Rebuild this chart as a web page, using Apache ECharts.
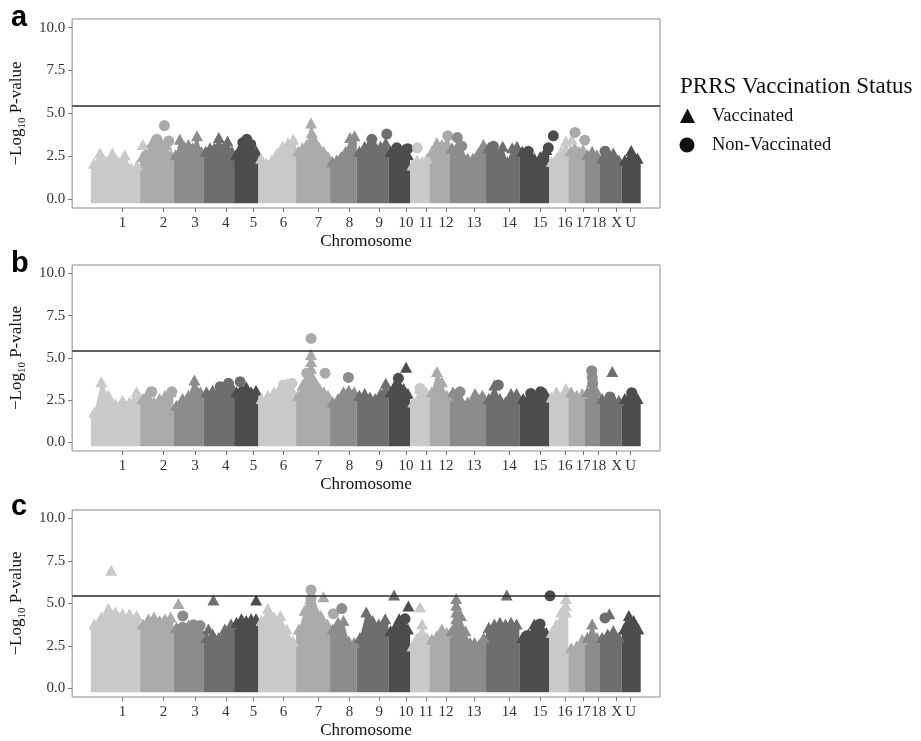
<!DOCTYPE html>
<html><head><meta charset="utf-8">
<script src="https://cdn.jsdelivr.net/npm/echarts@6/dist/echarts.min.js"></script>
<style>html,body{margin:0;padding:0;background:#fff}#c{width:921px;height:741px}</style>
</head><body><div id="c"></div>
<script>
// ---------------- data ----------------
const chrLabels = ['1','2','3','4','5','6','7','8','9','10','11','12','13','14','15','16','17','18','X','U'];
// cumulative genome position of chromosome boundaries (axis units)
const chrBounds = [0, 49.3, 82.6, 112.6, 143.3, 167.6, 205.3, 239.3, 266, 297.6, 319.3, 338.6, 358.6, 395.3, 428.6, 458.6, 477.6, 494.3, 508.6, 531, 550];
// axis tick (label) positions for each chromosome
const chrTickPos = [31.6, 72.6, 104.3, 135, 162.6, 192.6, 227.6, 258.6, 288.6, 315.3, 335.3, 355.3, 383.3, 418.6, 449.3, 474.3, 492.6, 508, 526, 540];
const yTicks = [0, 2.5, 5, 7.5, 10];
const threshold = 5.45;
const chrColors = ['#c9c9c9', '#aaaaaa', '#8c8c8c', '#6e6e6e', '#4c4c4c'];

// upper envelope of the dense SNP cloud (-log10 p of top SNPs, evenly spread along each chromosome)
const envA = [
  [2.1, 2.7, 2.2, 2.7, 2.2, 2.6, 1.85, 2.0],
  [2.5, 2.9, 3.3, 3.4, 3.3, 3.2, 2.6],
  [2.6, 3.5, 3.1, 3.2, 3.0, 3.7, 2.8],
  [2.8, 3.0, 3.0, 3.6, 3.0, 3.4, 2.8],
  [2.6, 3.0, 3.3, 3.2, 3.0, 2.8],
  [2.4, 2.1, 2.3, 2.7, 3.1, 3.3, 3.5],
  [2.8, 3.0, 3.2, 4.45, 3.4, 3.0, 2.8, 2.5],
  [2.2, 2.3, 2.5, 2.8, 3.6, 3.7],
  [2.8, 3.1, 3.3, 3.1, 3.1, 3.3],
  [2.8, 3.0, 2.8, 2.9, 2.6],
  [2.0, 2.3, 2.2, 2.4],
  [2.8, 3.3, 3.2, 3.3],
  [3.0, 3.1, 2.6, 2.4, 2.4, 2.7, 3.2],
  [3.0, 3.0, 2.6, 3.1, 2.2, 3.0, 3.1],
  [2.8, 2.8, 2.4, 2.5, 2.9],
  [2.2, 2.4, 2.8, 3.4],
  [2.8, 3.0, 2.8, 2.9],
  [2.6, 2.8, 2.6],
  [2.4, 2.8, 2.7, 2.3],
  [2.3, 2.85, 2.4]
];
const envB = [
  [1.8, 3.6, 2.8, 2.3, 2.5, 2.4, 3.0],
  [2.6, 3.0, 2.4, 2.6, 2.8, 3.0],
  [2.2, 2.6, 2.8, 3.7, 3.0],
  [3.0, 3.1, 3.0, 3.3, 3.4],
  [3.0, 3.2, 3.3, 3.0, 3.1],
  [2.6, 2.8, 3.0, 3.3, 3.5, 3.0],
  [2.8, 3.4, 3.8, 5.2, 3.6, 3.2, 3.0, 2.8],
  [2.4, 2.6, 3.0, 3.1, 3.0],
  [2.8, 2.9, 2.7, 2.6, 2.9, 3.5],
  [3.0, 3.4, 3.4, 3.2, 2.9],
  [2.4, 3.2, 3.0],
  [3.0, 4.2, 3.6, 2.8],
  [3.0, 2.6, 2.4, 2.9, 2.8],
  [2.6, 3.4, 2.6, 2.4, 2.9, 2.9],
  [2.6, 2.9, 3.0, 2.9],
  [2.7, 3.0, 2.7, 3.2],
  [3.0, 2.8, 2.9],
  [3.0, 3.6, 3.0],
  [2.6, 2.7, 2.6, 2.5],
  [2.6, 2.95, 2.6]
];
const envC = [
  [3.8, 4.2, 4.7, 4.5, 4.4, 4.4, 4.3],
  [3.8, 4.1, 4.2, 4.0, 4.1, 4.2],
  [3.6, 3.5, 3.7, 3.6, 3.4],
  [3.0, 3.2, 3.0, 3.5, 3.8],
  [3.9, 4.1, 4.0, 4.1, 4.1],
  [4.0, 4.7, 4.2, 4.3, 3.5, 2.8],
  [3.5, 4.6, 5.3, 4.6, 4.0, 3.8],
  [3.5, 3.9, 4.0, 2.8, 2.7],
  [3.0, 4.5, 4.0, 3.8, 4.1],
  [3.4, 3.6, 4.1, 3.8, 3.5],
  [2.5, 3.0, 3.8, 3.0],
  [2.9, 3.1, 3.5, 3.3],
  [3.4, 5.3, 4.3, 3.4, 2.7, 2.7, 2.6, 3.0],
  [3.6, 3.8, 3.9, 3.8, 3.9, 3.8],
  [3.0, 3.2, 3.8, 3.7, 3.3],
  [3.3, 3.8, 4.5, 5.3],
  [2.4, 2.5, 2.9],
  [3.0, 3.8, 3.0],
  [3.0, 3.2, 3.4, 3.0],
  [3.5, 4.3, 4.0, 3.5]
];

// individual prominent SNPs: [chromosome index, position, -log10 p, status (0 = Vaccinated, 1 = Non-Vaccinated)]
const peaksA = [
  [0, 52, 3.2, 0], [1, 73.6, 4.3, 1], [1, 66, 3.5, 1], [1, 78, 3.4, 1],
  [4, 152, 3.3, 1], [4, 156, 3.5, 1], [4, 160, 3.2, 1],
  [6, 221, 3.9, 0], [6, 221, 3.4, 0],
  [8, 281, 3.5, 1], [8, 296, 3.8, 1], [9, 306, 3.0, 1], [9, 317, 2.95, 1],
  [10, 326.6, 3.0, 1], [11, 357, 3.7, 1], [12, 366.6, 3.6, 1], [12, 371, 3.1, 1],
  [13, 402.6, 3.1, 1], [14, 437.6, 2.8, 1], [14, 457.6, 3.0, 1], [14, 462.6, 3.7, 1],
  [15, 481, 3.5, 0], [16, 484.3, 3.9, 1], [16, 494, 3.45, 1], [18, 514.3, 2.8, 1]
];
const peaksB = [
  [1, 61, 3.0, 1], [1, 81, 3.0, 1], [3, 129.3, 3.3, 1], [3, 137.6, 3.5, 1], [3, 149.3, 3.6, 1],
  [5, 192.6, 3.4, 1], [5, 201, 3.5, 1],
  [6, 220.3, 6.16, 1], [6, 220.3, 4.8, 0], [6, 220.3, 4.4, 0], [6, 220.3, 4.0, 0],
  [6, 216, 4.1, 1], [6, 234.3, 4.1, 1],
  [7, 257.6, 3.85, 1], [9, 307.6, 3.8, 1], [9, 315.3, 4.45, 0], [10, 329.3, 3.2, 1],
  [12, 369.3, 3.0, 1], [13, 407.6, 3.4, 1], [14, 440, 2.9, 1], [14, 450, 3.0, 1],
  [17, 501, 4.25, 1], [17, 501.5, 3.85, 1], [17, 502, 3.5, 1],
  [18, 521.6, 4.2, 0], [18, 519.3, 2.7, 1], [19, 541, 2.95, 1]
];
const peaksC = [
  [0, 20.3, 6.95, 0], [0, 22, 4.2, 0], [1, 87.6, 5.0, 0],
  [2, 92, 4.27, 1], [2, 92, 3.6, 1], [2, 102.6, 3.75, 1], [2, 109.3, 3.7, 1],
  [3, 122.6, 5.2, 0], [3, 117.6, 3.5, 0], [4, 165.3, 5.2, 0],
  [6, 220.3, 5.8, 1], [6, 220.3, 5.3, 1], [6, 220.3, 4.9, 1], [6, 232.6, 5.4, 0], [6, 230, 4.3, 0],
  [6, 242.6, 4.4, 1], [7, 251, 4.7, 1],
  [8, 303.3, 5.5, 0], [9, 317.6, 4.85, 0], [9, 314.3, 4.1, 1], [10, 329.3, 4.8, 0],
  [12, 365.5, 4.9, 0], [12, 365.5, 4.5, 0], [12, 365.5, 4.1, 0],
  [13, 416, 5.5, 0], [14, 459.3, 5.45, 1], [14, 449.3, 3.8, 1], [14, 436, 3.1, 1],
  [15, 475, 4.9, 0], [15, 475, 4.5, 0],
  [18, 514.3, 4.15, 1], [18, 518.6, 4.4, 0],
  [19, 537, 3.9, 0], [19, 537, 3.5, 0]
];

// ---------------- chart ----------------
const SERIF = 'Liberation Serif, Times New Roman, serif';
const grids = [
  {left: 72, width: 588, top: 19, height: 189},
  {left: 72, width: 588, top: 265, height: 186},
  {left: 72, width: 588, top: 510, height: 187}
];
const panels = [envA, envB, envC];
const peaks = [peaksA, peaksB, peaksC];
const colorOf = i => chrColors[i % 5];

function envPoints(env) {
  const out = [];
  env.forEach((e, i) => {
    const s = chrBounds[i], t = chrBounds[i + 1], n = e.length;
    e.forEach((v, k) => out.push([s + (k + 0.5) * (t - s) / n, v, i]));
  });
  return out;
}

const series = [];
const xAxes = [], yAxes = [];
grids.forEach((g, gi) => {
  xAxes.push({
    type: 'value', gridIndex: gi, min: -18.7, max: 569.3,
    axisLine: {show: false, onZero: false},
    axisTick: {show: true, customValues: chrTickPos, length: 4, lineStyle: {color: '#777'}},
    axisLabel: {
      customValues: chrTickPos, margin: 8, color: '#333', fontFamily: SERIF, fontSize: 15,
      formatter: v => {
        let best = 0;
        chrTickPos.forEach((p, i) => { if (Math.abs(p - v) < Math.abs(chrTickPos[best] - v)) best = i; });
        return chrLabels[best];
      }
    },
    splitLine: {show: false},
    name: 'Chromosome', nameLocation: 'middle', nameGap: 25,
    nameTextStyle: {color: '#111', fontFamily: SERIF, fontSize: 17}
  });
  yAxes.push({
    type: 'value', gridIndex: gi, min: -0.5, max: 10.5,
    axisLine: {show: false, onZero: false},
    axisTick: {show: true, customValues: yTicks, length: 4, lineStyle: {color: '#777'}},
    axisLabel: {customValues: yTicks, margin: 7, color: '#333', fontFamily: SERIF, fontSize: 15,
      formatter: v => v.toFixed(1)},
    splitLine: {show: false},
    name: '{a|−Log}{s|10}{a| P-value}', nameLocation: 'middle', nameGap: 41, nameRotate: 90,
    nameTextStyle: {
      color: '#111', fontFamily: SERIF, fontSize: 17,
      rich: {
        a: {fontFamily: SERIF, fontSize: 17, color: '#111', lineHeight: 22, verticalAlign: 'bottom'},
        s: {fontFamily: SERIF, fontSize: 11, color: '#111', lineHeight: 22, verticalAlign: 'bottom', padding: [0, 0, -3, 0]}
      }
    }
  });
  const env = panels[gi];
  series.push({
    type: 'custom', xAxisIndex: gi, yAxisIndex: gi, silent: true, z: 1, clip: true,
    data: chrLabels.map((_, i) => [chrBounds[i], chrBounds[i + 1], i]),
    encode: {x: [0, 1]},
    renderItem: (params, api) => {
      const i = api.value(2);
      const e = env[i], s = chrBounds[i], t = chrBounds[i + 1], n = e.length;
      const pts = [api.coord([s, -0.22]), api.coord([s, e[0]])];
      e.forEach((v, k) => pts.push(api.coord([s + (k + 0.5) * (t - s) / n, v])));
      pts.push(api.coord([t, e[n - 1]]), api.coord([t, -0.22]));
      return {type: 'polygon', shape: {points: pts}, style: {fill: colorOf(i)}};
    }
  });
  series.push({
    type: 'scatter', xAxisIndex: gi, yAxisIndex: gi, silent: true, z: 2,
    symbol: 'triangle', symbolSize: [12, 11],
    data: envPoints(env),
    itemStyle: {color: p => colorOf(p.value[2]), opacity: 1}
  });
  series.push({
    type: 'scatter', xAxisIndex: gi, yAxisIndex: gi, silent: true, z: 3,
    data: peaks[gi].map(p => [p[1], p[2], p[0], p[3]]),
    symbol: v => v[3] === 1 ? 'circle' : 'triangle',
    symbolSize: v => v[3] === 1 ? 11 : [12, 11],
    itemStyle: {color: p => colorOf(p.value[2]), opacity: 1},
    markLine: {
      silent: true, symbol: 'none', label: {show: false}, animation: false,
      lineStyle: {color: '#2a2a2a', width: 1.6, type: 'solid'},
      data: [{yAxis: threshold}]
    }
  });
});

const letters = [['a', 18.3], ['b', 263.6], ['c', 506.6]];
const graphic = letters.map(l => ({
  type: 'text', style: {x: 11, y: l[1], text: l[0], fill: '#000',
    font: 'bold 29px Liberation Sans, Arial, sans-serif', textVerticalAlign: 'middle', textAlign: 'left'}
}));
graphic.push(
  {type: 'text', style: {x: 680, y: 87, text: 'PRRS Vaccination Status', fill: '#111',
    font: '23px ' + SERIF, textVerticalAlign: 'middle', textAlign: 'left'}},
  {type: 'polygon', shape: {points: [[680, 123], [687.5, 108.5], [695, 123]]}, style: {fill: '#111'}},
  {type: 'text', style: {x: 712, y: 116.5, text: 'Vaccinated', fill: '#111',
    font: '18.5px ' + SERIF, textVerticalAlign: 'middle', textAlign: 'left'}},
  {type: 'circle', shape: {cx: 687, cy: 145, r: 7.5}, style: {fill: '#111'}},
  {type: 'text', style: {x: 712, y: 145, text: 'Non-Vaccinated', fill: '#111',
    font: '18.5px ' + SERIF, textVerticalAlign: 'middle', textAlign: 'left'}}
);

const chart = echarts.init(document.getElementById('c'), null, {renderer: 'canvas'});
chart.setOption({
  animation: false,
  backgroundColor: '#fff',
  grid: grids.map(g => Object.assign({show: true, borderColor: '#8a8a8a', borderWidth: 1, backgroundColor: 'transparent'}, g)),
  xAxis: xAxes,
  yAxis: yAxes,
  series: series,
  graphic: graphic
});
</script></body></html>
